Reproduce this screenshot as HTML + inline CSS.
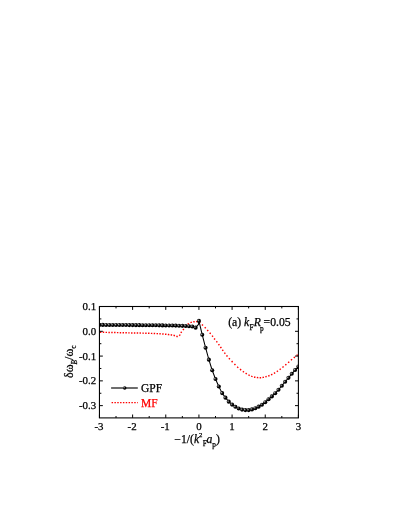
<!DOCTYPE html>
<html><head><meta charset="utf-8"><title>chart</title>
<style>html,body{margin:0;padding:0;background:#fff;}body{width:399px;height:516px;overflow:hidden;}svg{display:block;}text{font-family:"Liberation Serif",serif;stroke:#000;stroke-width:0.25px;}text.r{fill:#f00;stroke:#f00;}</style></head><body>
<svg width="399" height="516" viewBox="0 0 399 516">
<defs><radialGradient id="b" cx="0.33" cy="0.38" r="0.6"><stop offset="0" stop-color="#c0c0c0"/><stop offset="0.3" stop-color="#404040"/><stop offset="0.62" stop-color="#000"/><stop offset="1" stop-color="#000"/></radialGradient><filter id="bl" x="0" y="0" width="399" height="516" filterUnits="userSpaceOnUse"><feGaussianBlur stdDeviation="0.38"/></filter><clipPath id="cp"><rect x="99.45" y="306.5" width="199.25" height="111.4"/></clipPath></defs>
<rect width="399" height="516" fill="#fff"/><g filter="url(#bl)">
<path d="M99.93 332.21L100.65 332.23L101.37 332.25M102.76 332.28L103.48 332.3L104.2 332.32M105.59 332.35L106.31 332.37L107.03 332.39M108.42 332.42L109.14 332.44L109.86 332.45M111.25 332.49L111.97 332.5L112.69 332.52M114.08 332.55L114.8 332.57L115.52 332.59M116.91 332.62L117.63 332.63L118.35 332.65M119.74 332.68L120.46 332.7L121.18 332.71M122.57 332.75L123.29 332.76L124.01 332.78M125.4 332.81L126.12 332.82L126.84 332.84M128.23 332.87L128.95 332.88L129.67 332.89M131.06 332.92L131.78 332.93L132.5 332.95M133.89 332.97L134.61 332.98L135.33 332.99M136.72 333.02L137.44 333.03L138.16 333.05M139.55 333.07L140.27 333.09L140.99 333.1M142.38 333.13L143.1 333.15L143.82 333.16M145.21 333.2L145.93 333.21L146.65 333.23M148.04 333.27L148.76 333.29L149.48 333.32M150.87 333.36L151.59 333.39L152.31 333.42M153.7 333.47L154.42 333.5L155.14 333.54M156.53 333.61L157.25 333.64L157.97 333.68M159.36 333.76L160.08 333.81L160.8 333.85M162.19 333.94L162.91 333.99L163.63 334.05M165.02 334.17L165.74 334.24L166.46 334.32M167.85 334.48L168.57 334.57L169.29 334.66M170.68 334.84L171.4 334.94L172.12 335.04M173.53 335.31L174.23 335.5L174.92 335.73M176.38 336.26L177.06 336.51L177.77 336.55M179.32 335.73L179.77 335.16L180.11 334.53M180.84 332.96L181.21 332.33L181.62 331.74M182.94 330.07L183.4 329.5L183.85 328.94M185.29 327.22L185.76 326.67L186.24 326.13M187.77 324.38L188.31 323.89L188.88 323.45M190.45 322.62L191.14 322.4L191.84 322.21M193.25 321.88L193.97 321.76L194.69 321.69M196.07 321.62L196.8 321.6L197.52 321.65M198.97 322.11L199.63 322.41L200.22 322.83M201.92 324.43L202.46 324.92L202.99 325.41M204.74 327.15L205.23 327.68L205.72 328.22M207.24 329.96L207.72 330.51L208.19 331.06M209.68 332.79L210.16 333.34L210.64 333.88M212.09 335.59L212.52 336.17L212.93 336.77M214.1 338.43L214.55 339L215.01 339.56M216.4 341.26L216.84 341.83L217.28 342.4M218.51 344.07L218.93 344.66L219.34 345.25M220.46 346.89L220.86 347.49L221.27 348.09M222.37 349.72L222.78 350.32L223.2 350.91M224.4 352.57L224.83 353.15L225.27 353.73M226.56 355.41L227.01 355.98L227.46 356.54M228.91 358.27L229.39 358.81L229.88 359.34M231.6 361.12L232.12 361.63L232.64 362.14M234.42 363.93L234.93 364.45L235.44 364.97M237.22 366.73L237.74 367.23L238.28 367.72M240.01 369.19L240.57 369.64L241.14 370.09M242.81 371.35L243.4 371.76L244 372.17M245.62 373.21L246.23 373.59L246.85 373.96M248.42 374.83L249.06 375.16L249.72 375.47M251.22 376.14L251.89 376.42L252.57 376.67M254.01 377.04L254.72 377.17L255.44 377.29M256.83 377.5L257.55 377.59L258.27 377.66M259.66 377.74L260.38 377.75L261.11 377.71M262.5 377.52L263.21 377.38L263.92 377.21M265.34 376.84L266.04 376.65L266.74 376.46M268.19 376.01L268.87 375.76L269.55 375.49M271.05 374.84L271.7 374.53L272.36 374.22M273.9 373.42L274.53 373.06L275.15 372.69M276.76 371.64L277.36 371.23L277.96 370.82M279.61 369.65L280.19 369.22L280.77 368.79M282.46 367.46L283.02 367L283.58 366.54M285.29 365.12L285.85 364.66L286.41 364.19M288.14 362.71L288.68 362.23L289.23 361.75M290.96 360.25L291.51 359.78L292.07 359.31M293.78 357.89L294.34 357.44L294.91 356.98M296.6 355.61L297.17 355.16L297.74 354.72" fill="none" stroke="#f00" stroke-width="1.45"/>
<g clip-path="url(#cp)"><path d="M99.45 324.9 L102.77 324.92 L106.08 324.94 L109.4 324.96 L112.71 324.98 L116.03 325 L119.34 325.02 L122.66 325.04 L125.98 325.07 L129.29 325.09 L132.61 325.12 L135.92 325.15 L139.24 325.17 L142.56 325.2 L145.87 325.22 L149.19 325.25 L152.5 325.28 L155.82 325.31 L159.13 325.35 L162.45 325.39 L165.77 325.44 L169.08 325.49 L172.4 325.54 L175.71 325.62 L179.03 325.72 L182.35 325.84 L185.66 325.98 L188.98 326.2 L192.29 326.47 L195.61 327.65 L198.5 324.4 L198.93 320.91 L202.24 334.76 L205.56 347.71 L208.87 359.65 L212.19 370.26 L215.5 379.05 L218.82 386.44 L222.14 393.12 L225.45 397.67 L228.77 401.67 L232.08 404.59 L235.4 406.8 L238.71 408.47 L242.03 409.59 L245.35 410.1 L248.66 410.1 L251.98 409.41 L255.29 408.3 L258.61 406.64 L261.93 404.68 L265.24 402.25 L268.56 399.25 L271.87 396.41 L275.19 393.21 L278.5 389.79 L281.82 385.75 L285.14 381.72 L288.45 377.84 L291.77 373.82 L295.08 370.01 L298.4 366.5" fill="none" stroke="#000" stroke-width="1.05" stroke-linejoin="round"/>
<g fill="url(#b)">
<circle cx="99.45" cy="324.9" r="2.05"/>
<circle cx="102.77" cy="324.92" r="2.05"/>
<circle cx="106.08" cy="324.94" r="2.05"/>
<circle cx="109.4" cy="324.96" r="2.05"/>
<circle cx="112.71" cy="324.98" r="2.05"/>
<circle cx="116.03" cy="325" r="2.05"/>
<circle cx="119.34" cy="325.02" r="2.05"/>
<circle cx="122.66" cy="325.04" r="2.05"/>
<circle cx="125.98" cy="325.07" r="2.05"/>
<circle cx="129.29" cy="325.09" r="2.05"/>
<circle cx="132.61" cy="325.12" r="2.05"/>
<circle cx="135.92" cy="325.15" r="2.05"/>
<circle cx="139.24" cy="325.17" r="2.05"/>
<circle cx="142.56" cy="325.2" r="2.05"/>
<circle cx="145.87" cy="325.22" r="2.05"/>
<circle cx="149.19" cy="325.25" r="2.05"/>
<circle cx="152.5" cy="325.28" r="2.05"/>
<circle cx="155.82" cy="325.31" r="2.05"/>
<circle cx="159.13" cy="325.35" r="2.05"/>
<circle cx="162.45" cy="325.39" r="2.05"/>
<circle cx="165.77" cy="325.44" r="2.05"/>
<circle cx="169.08" cy="325.49" r="2.05"/>
<circle cx="172.4" cy="325.54" r="2.05"/>
<circle cx="175.71" cy="325.62" r="2.05"/>
<circle cx="179.03" cy="325.72" r="2.05"/>
<circle cx="182.35" cy="325.84" r="2.05"/>
<circle cx="185.66" cy="325.98" r="2.05"/>
<circle cx="188.98" cy="326.2" r="2.05"/>
<circle cx="192.29" cy="326.47" r="2.05"/>
<circle cx="195.61" cy="327.65" r="2.05"/>
<circle cx="198.93" cy="320.91" r="2.05"/>
<circle cx="202.24" cy="334.76" r="2.05"/>
<circle cx="205.56" cy="347.71" r="2.05"/>
<circle cx="208.87" cy="359.65" r="2.05"/>
<circle cx="212.19" cy="370.26" r="2.05"/>
<circle cx="215.5" cy="379.05" r="2.05"/>
<circle cx="218.82" cy="386.44" r="2.05"/>
<circle cx="222.14" cy="393.12" r="2.05"/>
<circle cx="225.45" cy="397.67" r="2.05"/>
<circle cx="228.77" cy="401.67" r="2.05"/>
<circle cx="232.08" cy="404.59" r="2.05"/>
<circle cx="235.4" cy="406.8" r="2.05"/>
<circle cx="238.71" cy="408.47" r="2.05"/>
<circle cx="242.03" cy="409.59" r="2.05"/>
<circle cx="245.35" cy="410.1" r="2.05"/>
<circle cx="248.66" cy="410.1" r="2.05"/>
<circle cx="251.98" cy="409.41" r="2.05"/>
<circle cx="255.29" cy="408.3" r="2.05"/>
<circle cx="258.61" cy="406.64" r="2.05"/>
<circle cx="261.93" cy="404.68" r="2.05"/>
<circle cx="265.24" cy="402.25" r="2.05"/>
<circle cx="268.56" cy="399.25" r="2.05"/>
<circle cx="271.87" cy="396.41" r="2.05"/>
<circle cx="275.19" cy="393.21" r="2.05"/>
<circle cx="278.5" cy="389.79" r="2.05"/>
<circle cx="281.82" cy="385.75" r="2.05"/>
<circle cx="285.14" cy="381.72" r="2.05"/>
<circle cx="288.45" cy="377.84" r="2.05"/>
<circle cx="291.77" cy="373.82" r="2.05"/>
<circle cx="295.08" cy="370.01" r="2.05"/>
<circle cx="298.4" cy="366.5" r="2.05"/>
</g></g>
<rect x="99.45" y="306.5" width="198.95" height="111.4" fill="none" stroke="#000" stroke-width="1.08"/>
<path d="M99.45 306.5 v3.4 M99.45 417.9 v-3.4 M116.03 306.5 v1.9 M116.03 417.9 v-1.9 M132.61 306.5 v3.4 M132.61 417.9 v-3.4 M149.19 306.5 v1.9 M149.19 417.9 v-1.9 M165.77 306.5 v3.4 M165.77 417.9 v-3.4 M182.35 306.5 v1.9 M182.35 417.9 v-1.9 M198.93 306.5 v3.4 M198.93 417.9 v-3.4 M215.5 306.5 v1.9 M215.5 417.9 v-1.9 M232.08 306.5 v3.4 M232.08 417.9 v-3.4 M248.66 306.5 v1.9 M248.66 417.9 v-1.9 M265.24 306.5 v3.4 M265.24 417.9 v-3.4 M281.82 306.5 v1.9 M281.82 417.9 v-1.9 M298.4 306.5 v3.4 M298.4 417.9 v-3.4 M99.45 306.52 h3.4 M298.4 306.52 h-3.4 M99.45 318.91 h1.9 M298.4 318.91 h-1.9 M99.45 331.3 h3.4 M298.4 331.3 h-3.4 M99.45 343.69 h1.9 M298.4 343.69 h-1.9 M99.45 356.08 h3.4 M298.4 356.08 h-3.4 M99.45 368.47 h1.9 M298.4 368.47 h-1.9 M99.45 380.86 h3.4 M298.4 380.86 h-3.4 M99.45 393.25 h1.9 M298.4 393.25 h-1.9 M99.45 405.64 h3.4 M298.4 405.64 h-3.4" stroke="#000" stroke-width="1" fill="none"/>
<g font-size="10.9" fill="#000">
<text x="96.2" y="310.02" text-anchor="end">0.1</text>
<text x="96.2" y="334.8" text-anchor="end">0.0</text>
<text x="96.2" y="359.58" text-anchor="end">-0.1</text>
<text x="96.2" y="384.36" text-anchor="end">-0.2</text>
<text x="96.2" y="409.14" text-anchor="end">-0.3</text>
<text x="98.95" y="429.9" text-anchor="middle">-3</text>
<text x="132.11" y="429.9" text-anchor="middle">-2</text>
<text x="165.27" y="429.9" text-anchor="middle">-1</text>
<text x="198.93" y="429.9" text-anchor="middle">0</text>
<text x="232.08" y="429.9" text-anchor="middle">1</text>
<text x="265.24" y="429.9" text-anchor="middle">2</text>
<text x="298.4" y="429.9" text-anchor="middle">3</text>
</g>
<text x="228.2" y="326" font-size="11.7">(a) <tspan font-style="italic">k</tspan><tspan font-size="7.3" dy="4.4" dx="0.3">F</tspan><tspan font-style="italic" dy="-4.4" dx="0.2">R</tspan><tspan font-size="7.3" dy="5.2" dx="-0.9">p</tspan><tspan dy="-5.2" dx="-0.2">=0.05</tspan></text>
<path d="M111.1 388 H137.8" stroke="#000" stroke-width="1.15"/><circle cx="124.7" cy="388" r="1.8" fill="url(#b)"/>
<text x="141" y="392" font-size="11.5">GPF</text>
<path d="M111.1 402.6 H137.8" stroke="#f00" stroke-width="1.45" stroke-dasharray="1.45 1.38" stroke-dashoffset="-0.5"/>
<text x="141" y="406.6" font-size="11.5" class="r">MF</text>
<text x="174.3" y="442.6" font-size="11.7">−1/(<tspan font-style="italic">k</tspan><tspan font-size="6.8" dy="-6">2</tspan><tspan font-size="7.3" dy="9.7" dx="0.3">F</tspan><tspan font-style="italic" dy="-3.7" dx="-0.4">a</tspan><tspan font-size="7.3" dy="4.5">p</tspan><tspan dy="-4.5">)</tspan></text>
<text transform="translate(72.7 378) rotate(-90)" font-size="12">δω<tspan font-size="7.4" dy="3.8" font-style="italic">B</tspan><tspan dy="-3.8">/ω</tspan><tspan font-size="7.4" dy="3.6">c</tspan></text>
</g></svg></body></html>
